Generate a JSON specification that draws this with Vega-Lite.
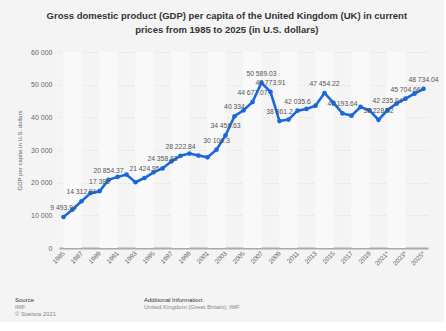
{
  "$schema": "https://vega.github.io/schema/vega-lite/v6.json",
  "background": "#f4f4f4",
  "padding": {"left": 15, "top": 10, "right": 5, "bottom": 5},
  "title": {
    "text": ["Gross domestic product (GDP) per capita of the United Kingdom (UK) in current", "prices from 1985 to 2025 (in U.S. dollars)"],
    "fontSize": 9.5,
    "fontWeight": "bold",
    "color": "#333333",
    "anchor": "middle",
    "lineHeight": 14,
    "offset": 14
  },
  "config": {
    "font": "Liberation Sans",
    "view": {"stroke": null},
    "axis": {"labelOverlap": false, "labelFlush": false, "ticks": false},
    "locale": {"number": {"decimal": ".", "thousands": " ", "grouping": [3], "currency": ["$", ""]}}
  },
  "datasets": {
    "gdp": [
      {"year": 1985, "gdp": 9493.94, "labeled": true},
      {"year": 1986, "gdp": 11770, "labeled": false},
      {"year": 1987, "gdp": 14312.01, "labeled": true},
      {"year": 1988, "gdp": 16800, "labeled": false},
      {"year": 1989, "gdp": 17386, "labeled": true},
      {"year": 1990, "gdp": 20854.37, "labeled": true},
      {"year": 1991, "gdp": 21770, "labeled": false},
      {"year": 1992, "gdp": 22480, "labeled": false},
      {"year": 1993, "gdp": 20120, "labeled": false},
      {"year": 1994, "gdp": 21424.95, "labeled": true},
      {"year": 1995, "gdp": 23180, "labeled": false},
      {"year": 1996, "gdp": 24358.83, "labeled": true},
      {"year": 1997, "gdp": 26540, "labeled": false},
      {"year": 1998, "gdp": 28222.84, "labeled": true},
      {"year": 1999, "gdp": 28900, "labeled": false},
      {"year": 2000, "gdp": 28290, "labeled": false},
      {"year": 2001, "gdp": 27770, "labeled": false},
      {"year": 2002, "gdp": 30106.3, "labeled": true},
      {"year": 2003, "gdp": 34456.63, "labeled": true},
      {"year": 2004, "gdp": 40334, "labeled": true},
      {"year": 2005, "gdp": 42140, "labeled": false},
      {"year": 2006, "gdp": 44677.07, "labeled": true},
      {"year": 2007, "gdp": 50589.03, "labeled": true},
      {"year": 2008, "gdp": 47773.91, "labeled": true},
      {"year": 2009, "gdp": 38861.2, "labeled": true},
      {"year": 2010, "gdp": 39300, "labeled": false},
      {"year": 2011, "gdp": 42035.6, "labeled": true},
      {"year": 2012, "gdp": 42570, "labeled": false},
      {"year": 2013, "gdp": 43580, "labeled": false},
      {"year": 2014, "gdp": 47454.22, "labeled": true},
      {"year": 2015, "gdp": 44400, "labeled": false},
      {"year": 2016, "gdp": 41193.64, "labeled": true},
      {"year": 2017, "gdp": 40520, "labeled": false},
      {"year": 2018, "gdp": 43180, "labeled": false},
      {"year": 2019, "gdp": 42140, "labeled": false},
      {"year": 2020, "gdp": 39228.52, "labeled": true},
      {"year": 2021, "gdp": 42235.94, "labeled": true},
      {"year": 2022, "gdp": 44190, "labeled": false},
      {"year": 2023, "gdp": 45704.66, "labeled": true},
      {"year": 2024, "gdp": 47250, "labeled": false},
      {"year": 2025, "gdp": 48734.04, "labeled": true}
    ],
    "stripes": [
      {"start": 1985, "end": 1987},
      {"start": 1989, "end": 1991},
      {"start": 1993, "end": 1995},
      {"start": 1997, "end": 1999},
      {"start": 2001, "end": 2003},
      {"start": 2005, "end": 2007},
      {"start": 2009, "end": 2011},
      {"start": 2013, "end": 2015},
      {"start": 2017, "end": 2019},
      {"start": 2021, "end": 2023}
    ],
    "footer": [
      {"col": 0, "row": 0, "kind": "head", "text": "Source"},
      {"col": 0, "row": 1, "kind": "body", "text": "IMF"},
      {"col": 0, "row": 2, "kind": "body", "text": "© Statista 2021"},
      {"col": 1, "row": 0, "kind": "head", "text": "Additional Information:"},
      {"col": 1, "row": 1, "kind": "body", "text": "United Kingdom (Great Britain); IMF"}
    ]
  },
  "vconcat": [
    {
      "width": 369,
      "height": 196,
      "layer": [
        {
          "data": {"name": "stripes"},
          "mark": {"type": "rect", "color": "#f9f9f9"},
          "encoding": {
            "x": {"field": "start", "type": "quantitative", "scale": {"domain": [1984.5, 2025.5], "nice": false, "zero": false}},
            "x2": {"field": "end"},
            "y": {"value": 0},
            "y2": {"value": 196}
          }
        },
        {
          "data": {"name": "gdp"},
          "mark": {"type": "line", "color": "#1a67db", "strokeWidth": 2.6, "point": {"filled": true, "size": 22, "color": "#1a67db"}},
          "encoding": {
            "x": {
              "field": "year", "type": "quantitative",
              "scale": {"domain": [1984.5, 2025.5], "nice": false, "zero": false},
              "axis": {
                "title": null,
                "values": [1985, 1987, 1989, 1991, 1993, 1995, 1997, 1999, 2001, 2003, 2005, 2007, 2009, 2011, 2013, 2015, 2017, 2019, 2021, 2023, 2025],
                "tickCount": 100,
                "labelExpr": "datum.value >= 2021 ? datum.value + '*' : '' + datum.value",
                "labelOverlap": false,
                "labelAngle": -45,
                "labelAlign": "right",
                "labelBaseline": "middle",
                "labelFontSize": 6.5,
                "labelColor": "#666666",
                "labelPadding": 4,
                "grid": false,
                "domainColor": "#aaaaaa",
                "domainWidth": 2
              }
            },
            "y": {
              "field": "gdp", "type": "quantitative",
              "scale": {"domain": [0, 60000], "nice": false},
              "axis": {
                "title": "GDP per capita in U.S. dollars",
                "titleFontSize": 6,
                "titleFontWeight": "normal",
                "titleColor": "#666666",
                "titlePadding": 8,
                "values": [0, 10000, 20000, 30000, 40000, 50000, 60000],
                "tickCount": 100,
                "format": ",d",
                "labelOverlap": false,
                "labelFontSize": 7,
                "labelColor": "#666666",
                "labelPadding": 7,
                "domain": false,
                "gridColor": "#dddddd",
                "gridDash": [2, 2],
                "gridWidth": 0.8
              }
            }
          }
        },
        {
          "data": {"name": "gdp"},
          "transform": [{"filter": "datum.labeled"}],
          "mark": {"type": "text", "dy": -9, "fontSize": 6.8, "color": "#555555"},
          "encoding": {
            "x": {"field": "year", "type": "quantitative"},
            "y": {"field": "gdp", "type": "quantitative"},
            "text": {"field": "gdp", "type": "quantitative", "format": ",.2~f"}
          }
        }
      ]
    },
    {
      "width": 85,
      "height": 14,
      "data": {"name": "footer"},
      "mark": {"type": "text", "align": "left", "baseline": "middle", "fontSize": 6},
      "encoding": {
        "x": {"field": "col", "type": "quantitative", "scale": {"domain": [0.341, 1], "zero": false, "nice": false}, "axis": null},
        "y": {"field": "row", "type": "quantitative", "scale": {"domain": [0, 2], "reverse": true}, "axis": null},
        "text": {"field": "text", "type": "nominal"},
        "color": {"field": "kind", "type": "nominal", "scale": {"domain": ["head", "body"], "range": ["#333333", "#888888"]}, "legend": null}
      }
    }
  ],
  "spacing": 30
}
